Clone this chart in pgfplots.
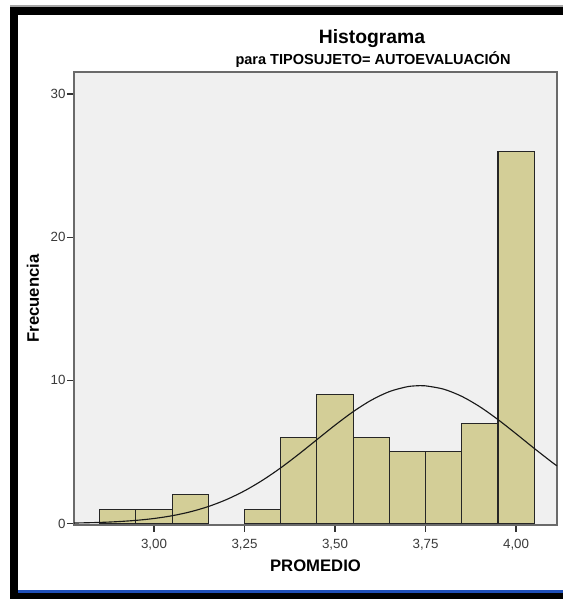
\documentclass[border=0pt]{standalone}
\usepackage{fontspec}
\setmainfont{Liberation Sans}
\usepackage{pgfplots}
\pgfplotsset{compat=1.18}
\definecolor{bartan}{HTML}{D3CE97}
\definecolor{panel}{HTML}{F0F0F0}
\definecolor{framegray}{HTML}{6A6A6A}
\definecolor{ticktext}{HTML}{3A3A3A}
\definecolor{winblue}{HTML}{1F4FB8}

\begin{document}
\begin{tikzpicture}
% page is 563x599 px, 1 px = 0.75pt, origin at bottom-left
\useasboundingbox (0pt,0pt) rectangle (422.25pt,449.25pt);
\fill[white] (0pt,0pt) rectangle (422.25pt,449.25pt);

% window border around the chart
\begin{scope}[x=0.75pt,y=0.75pt]
\fill[gray!70] (10,592) rectangle (563,593.5);
\fill[black] (10,584) rectangle (563,592);
\fill[black] (10,0) rectangle (18,592);
\fill[winblue] (18,6) rectangle (563,8.5);
\fill[black] (10,0) rectangle (563,6);

% titles
\node[font=\bfseries\fontsize{14.5}{16}\selectfont, anchor=center] at (372,560) {Histograma};
\node[font=\bfseries\fontsize{10.9}{12}\selectfont, anchor=center] at (373,539) {para TIPOSUJETO= AUTOEVALUACIÓN};
\end{scope}

\begin{axis}[
  at={(55.5pt,55.5pt)}, anchor=south west,
  scale only axis, width=362.25pt, height=339.75pt,
  xmin=2.779, xmax=4.113, ymin=-0.1, ymax=31.53,
  axis background/.style={fill=panel},
  axis line style={draw=framegray, line width=1.1pt},
  tick align=outside, tick pos=left,
  major tick length=5.2pt,
  tick style={draw=black!80, line width=0.9pt},
  xtick={3,3.25,3.5,3.75,4},
  xticklabels={{3,00},{3,25},{3,50},{3,75},{4,00}},
  ytick={0,10,20,30},
  yticklabels={0,10,20,30},
  ticklabel style={font=\fontsize{10}{12}\selectfont, text=ticktext},
  yticklabel style={inner sep=1pt},
  xticklabel style={inner sep=1pt, yshift=-4pt},
  xlabel={PROMEDIO},
  ylabel={Frecuencia},
  label style={font=\bfseries\fontsize{12.5}{14}\selectfont},
  xlabel style={at={(axis description cs:0.5,-0.0905)}, anchor=center},
  ylabel style={at={(axis description cs:-0.085,0.5)}, anchor=center},
]

% histogram bins (width 0.1), left edges
\addplot[ybar interval, fill=bartan, draw=black!85, line width=0.8pt]
  coordinates {(2.85,1) (2.95,1) (3.05,2) (3.15,2)};
\addplot[ybar interval, fill=bartan, draw=black!85, line width=0.8pt]
  coordinates {(3.25,1) (3.35,6) (3.45,9) (3.55,6) (3.65,5)
               (3.75,5) (3.85,7) (3.95,26) (4.05,26)};

% fitted normal curve (mean 3.735, sd 0.286, n = 69)
\addplot[smooth, black!90, line width=0.85pt]
  coordinates {
  (2.779,0.037) (2.85,0.080) (2.90,0.136) (2.95,0.223) (3.00,0.354)
  (3.05,0.547) (3.10,0.819) (3.15,1.189) (3.20,1.674) (3.25,2.286)
  (3.30,3.030) (3.35,3.891) (3.40,4.850) (3.45,5.862) (3.50,6.871)
  (3.55,7.812) (3.60,8.615) (3.65,9.214) (3.70,9.558) (3.735,9.630)
  (3.75,9.617) (3.80,9.384) (3.85,8.882) (3.90,8.154) (3.95,7.260)
  (4.00,6.269) (4.05,5.251) (4.10,4.266) (4.113,4.03)};
\end{axis}
\end{tikzpicture}
\end{document}
